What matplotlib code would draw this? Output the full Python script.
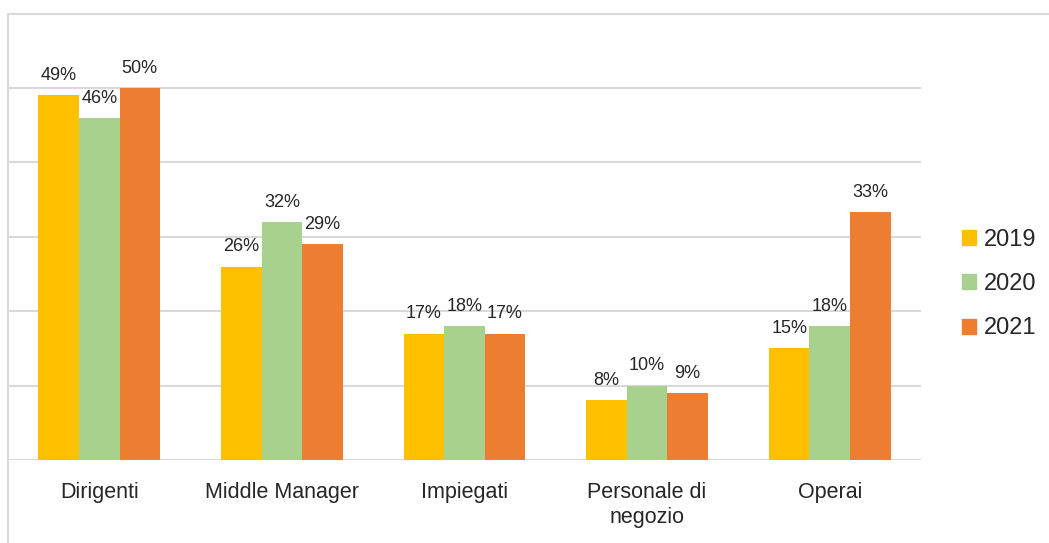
import numpy as np
import matplotlib.pyplot as plt
from matplotlib.lines import Line2D

plt.rcParams['font.family'] = ['Liberation Sans', 'DejaVu Sans']

categories = ['Dirigenti', 'Middle Manager', 'Impiegati', 'Personale di\nnegozio', 'Operai']
years = ['2019', '2020', '2021']
v2019 = [49, 26, 17, 8, 15]
v2020 = [46, 32, 18, 10, 18]
v2021 = [50, 29, 17, 9, 33.3]
colors = ['#FFC000', '#A9D18E', '#ED7D31']

W, H = 1049, 543
fig = plt.figure(figsize=(W / 100, H / 100), dpi=100)
ax = fig.add_axes([8 / W, 1 - 460 / H, 913 / W, (460 - 13.6) / H])

x = np.arange(len(categories))
bw = 0.222
txt = '#262626'
for i, (vals, yr) in enumerate(zip([v2019, v2020, v2021], years)):
    bars = ax.bar(x + (i - 1) * bw, vals, bw, color=colors[i], label=yr, zorder=3,
                  edgecolor='none')
    ax.bar_label(bars, labels=[f'{round(v)}%' for v in vals], padding=8,
                 fontsize=13, color=txt)

ax.set_xlim(-0.5, len(categories) - 0.5)
ax.set_ylim(0, 60)
ax.set_yticks(np.arange(0, 60, 10))
ax.yaxis.grid(True, color='#D9D9D9', linewidth=1.5, zorder=0)
ax.set_yticklabels([])
ax.tick_params(axis='y', length=0)
ax.set_xticks(x)
ax.set_xticklabels(categories, fontsize=15.5, color=txt, linespacing=1.25)
ax.tick_params(axis='x', length=0, pad=16)
for s in ax.spines.values():
    s.set_visible(False)

# chart area frame (top and left edges)
fig.add_artist(Line2D([8 / W, 1], [1 - 13.6 / H] * 2, color='#D9D9D9', lw=1.5))
fig.add_artist(Line2D([8 / W] * 2, [0, 1 - 13.6 / H], color='#D9D9D9', lw=1.5))

handles = [plt.Rectangle((0, 0), 1, 1, color=c) for c in colors]
fig.legend(handles, years, loc='center left', bbox_to_anchor=(941 / W, 1 - 284 / H),
           frameon=False, fontsize=17, handlelength=0.6, handleheight=0.6,
           handletextpad=0.3, labelspacing=0.95, labelcolor=txt)

plt.savefig('out.png', dpi=100)
